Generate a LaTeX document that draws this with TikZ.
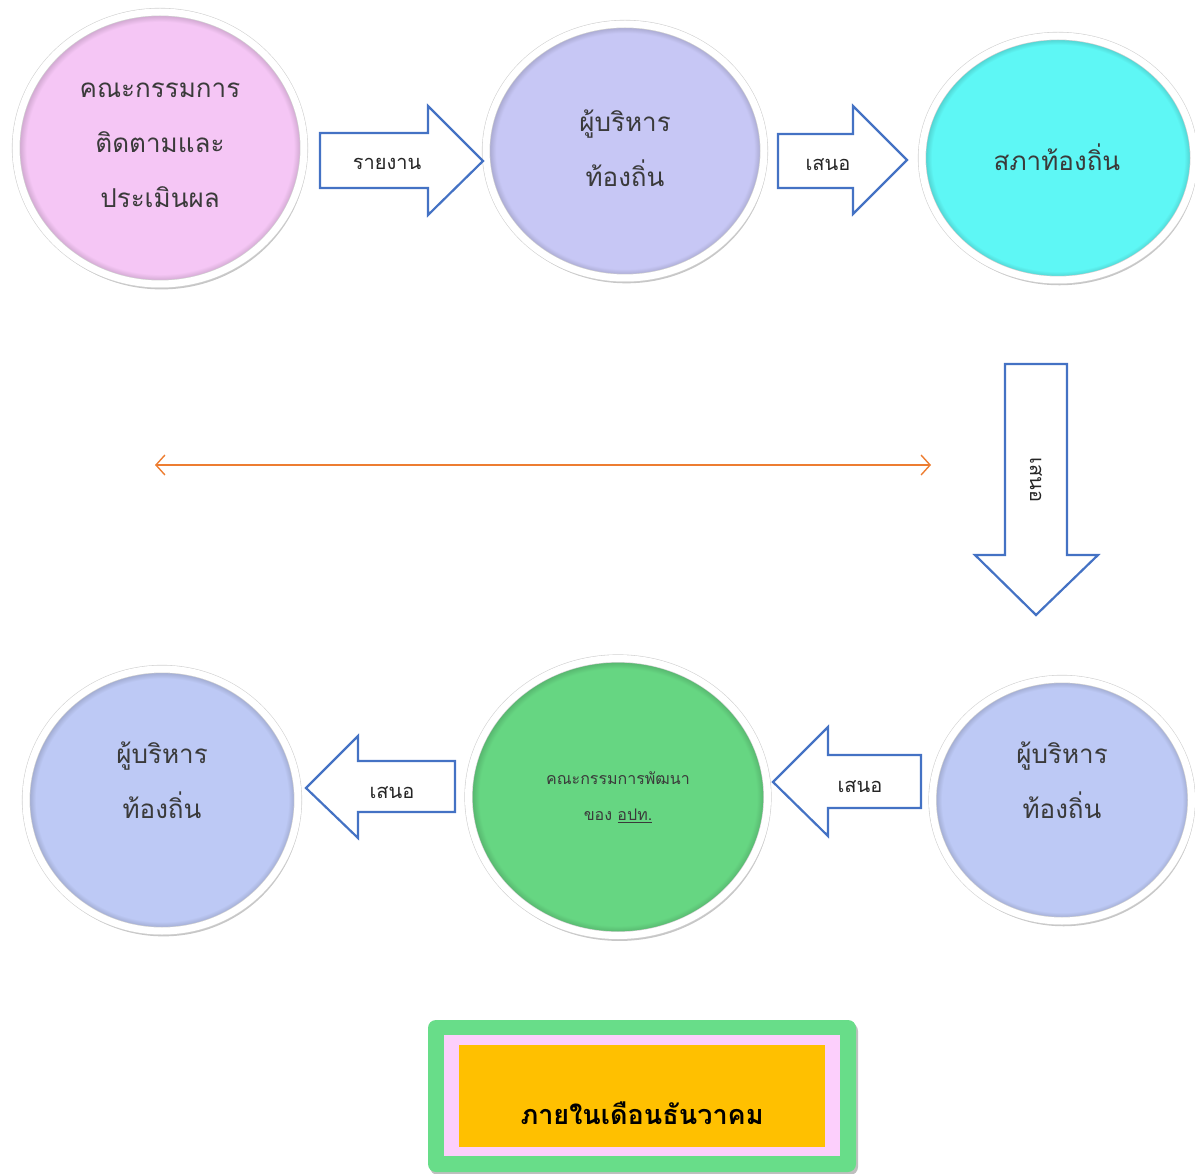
\documentclass[tikz,border=0pt]{standalone}
\usepackage{fontspec}
\newfontfamily\thai[Script=Thai]{Loma}
\usetikzlibrary{shapes.geometric,arrows.meta,shadows}
\definecolor{cpink}{RGB}{245,198,245}
\definecolor{clav}{RGB}{199,199,245}
\definecolor{ccyan}{RGB}{94,247,245}
\definecolor{cblue}{RGB}{189,201,245}
\definecolor{cgreen}{RGB}{102,214,130}
\definecolor{arrblue}{RGB}{68,114,196}
\definecolor{corange}{RGB}{237,125,49}
\definecolor{boxgreen}{RGB}{104,221,137}
\definecolor{boxpink}{RGB}{252,207,252}
\definecolor{boxorange}{RGB}{255,192,0}
\definecolor{txt}{RGB}{58,58,58}
\colorlet{bubcol}{white}
\pgfdeclareradialshading[bubcol]{bubshade}{\pgfpoint{0bp}{0bp}}{%
  color(0bp)=(bubcol); color(23.2bp)=(bubcol); color(24.3bp)=(bubcol!86!black); color(50bp)=(bubcol!86!black)}
\tikzset{
  bubble/.style={ellipse, inner sep=0pt, draw=gray!35, line width=0.6pt,
     double=white, double distance=7pt,
     /utils/exec={\colorlet{bubcol}{#1}}, shading=bubshade,
     drop shadow={shadow xshift=1.5pt, shadow yshift=-4pt, shadow scale=1.01, fill=black, opacity=0.22}},
  bigtext/.style={text=txt, align=center, font=\thai\fontsize{26}{55}\selectfont},
  smalltext/.style={text=txt, align=center, font=\thai\fontsize{16}{36}\selectfont},
  arrlabel/.style={text=black!85, font=\thai\fontsize{20}{24}\selectfont},
  blockarrow/.style={draw=arrblue, line width=2.2pt, fill=white, line join=miter},
  orangeline/.style={draw=corange, line width=1.4pt,
     {Straight Barb[length=9pt,width=20pt]}-{Straight Barb[length=9pt,width=20pt]}},
}
\begin{document}
\begin{tikzpicture}[x=1pt,y=-1pt]
\useasboundingbox (0,0) rectangle (1195,1174);

% circles
\node[bubble=cpink, minimum width=288pt, minimum height=272pt] (c1) at (160,148) {};
\node[bubble=clav, minimum width=278pt, minimum height=254pt] (c2) at (625,151) {};
\node[bubble=ccyan, minimum width=272pt, minimum height=244pt] (c3) at (1058,158) {};
\node[bubble=cblue, minimum width=272pt, minimum height=262pt] (c4) at (162,800) {};
\node[bubble=cgreen, minimum width=299pt, minimum height=277pt] (c5) at (618,797) {};
\node[bubble=cblue, minimum width=259pt, minimum height=242pt] (c6) at (1062,800) {};

% circle texts
\node[bigtext] (t1) at (160,145) {คณะกรรมการ\\ติดตามและ\\ประเมินผล};
\node[bigtext] (t2) at (625,148) {ผู้บริหาร\\ท้องถิ่น};
\node[bigtext] (t3) at (1057,157) {สภาท้องถิ่น};
\node[bigtext] (t4) at (162,780) {ผู้บริหาร\\ท้องถิ่น};
\node[smalltext] (t5) at (618,797) {คณะกรรมการพัฒนา\\ของ \underline{อปท.}};
\node[bigtext] (t6) at (1062,780) {ผู้บริหาร\\ท้องถิ่น};

% block arrows
\draw[blockarrow] (320,133) -- (428,133) -- (428,106) -- (483,161) -- (428,215) -- (428,188) -- (320,188) -- cycle;
\node[arrlabel] (a1) at (387,164) {รายงาน};
\draw[blockarrow] (778,134) -- (853,134) -- (853,106) -- (907,160) -- (853,214) -- (853,188) -- (778,188) -- cycle;
\node[arrlabel] (a2) at (828,165) {เสนอ};
\draw[blockarrow] (1005,364) -- (1067,364) -- (1067,555) -- (1098,555) -- (1036,615) -- (975,555) -- (1005,555) -- cycle;
\node[arrlabel, rotate=-90] (a3) at (1036,480) {เสนอ};
\draw[blockarrow] (921,755) -- (828,755) -- (828,727) -- (773,782) -- (828,836) -- (828,808) -- (921,808) -- cycle;
\node[arrlabel] (a4) at (860,787) {เสนอ};
\draw[blockarrow] (455,761) -- (358,761) -- (358,736) -- (306,788) -- (358,838) -- (358,812) -- (455,812) -- cycle;
\node[arrlabel] (a5) at (392,793) {เสนอ};

% orange double arrow
\coordinate (oL) at (155,465);
\coordinate (oR) at (931,465);
\draw[orangeline] (oL) -- (oR);

% bottom box
\fill[boxgreen, rounded corners=8pt, drop shadow={shadow xshift=2pt, shadow yshift=-3pt, fill=black, opacity=0.25}] (428,1020) rectangle (856,1172);
\fill[boxpink] (444,1035) rectangle (840,1156);
\fill[boxorange] (459,1045) rectangle (825,1147);
\node[font=\thai\bfseries\fontsize{27}{36}\selectfont, text=black] (bx) at (642,1113) {ภายในเดือนธันวาคม};
\end{tikzpicture}
\end{document}
